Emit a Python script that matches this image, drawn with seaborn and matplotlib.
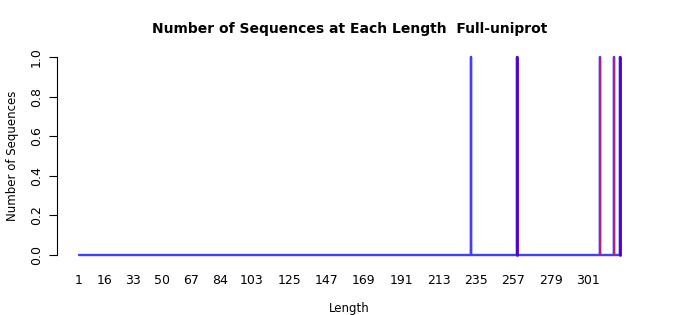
import numpy as np
import pandas as pd
import matplotlib
matplotlib.use("Agg")
import matplotlib.pyplot as plt
import seaborn as sns

# ---- data ----
length_min = 1
length_max = 320
spike_lengths_all = [232, 259, 308, 316, 320]     # blue series
spike_counts_all = [1, 1, 1, 1, 1]
spike_lengths_purple = [259, 320]                 # overlapping series (purple)
spike_counts_purple = [1, 1]
spike_lengths_red = [232, 308, 316]               # thin red core
spike_counts_red = [1, 1, 1]
xtick_values = [1, 16, 33, 50, 67, 84, 103, 125, 147, 169, 191, 213, 235, 257, 279, 301]
ytick_values = [0.0, 0.2, 0.4, 0.6, 0.8, 1.0]
title = "Number of Sequences at Each Length  Full-uniprot"

# blue: full length profile, spikes drawn as vertical segments
counts_blue = dict(zip(spike_lengths_all, spike_counts_all))
rows = []
for L in range(length_min, length_max + 1):
    c = counts_blue.get(L, 0)
    if c:
        rows += [(L, 0.0), (L, float(c)), (L, 0.0)]
    else:
        rows.append((L, 0.0))
df_blue = pd.DataFrame(rows, columns=["Length", "Count"])


def spikes(lengths, counts):
    r = []
    for i, (L, c) in enumerate(zip(lengths, counts)):
        r += [(L, 0.0, i), (L, float(c), i)]
    return pd.DataFrame(r, columns=["Length", "Count", "unit"])


df_purple = spikes(spike_lengths_purple, spike_counts_purple)
df_red = spikes(spike_lengths_red, spike_counts_red)

sns.set_style("white")
plt.rcParams['font.family'] = ['DejaVu Sans']
for k in ['text.color', 'axes.labelcolor', 'xtick.color', 'ytick.color']:
    plt.rcParams[k] = 'black'

fig = plt.figure(figsize=(7, 3.15), dpi=100)
ax = fig.add_axes([57/700, 1-263/315, (642-57)/700, (263-49)/315])

sns.lineplot(data=df_blue, x="Length", y="Count", ax=ax, color=(0.25, 0.25, 1.0),
             lw=1.7, estimator=None, sort=False, zorder=2)
for u, sub in df_purple.groupby("unit"):
    sns.lineplot(data=sub, x="Length", y="Count", ax=ax, color=(0.33, 0.0, 0.78),
                 lw=2.0, estimator=None, sort=False, zorder=3)
for u, sub in df_red.groupby("unit"):
    sns.lineplot(data=sub, x="Length", y="Count", ax=ax, color=(0.75, 0.1, 0.45),
                 lw=0.7, estimator=None, sort=False, zorder=4)

rng = length_max - length_min
ax.set_xlim(length_min - 0.04*rng, length_max + 0.04*rng)
ax.set_ylim(-0.04, 1.04)

ax.set_xticks(xtick_values)
ax.set_xticklabels([str(v) for v in xtick_values], fontsize=9)
ax.tick_params(axis='x', length=0, pad=8)
ax.set_yticks(ytick_values)
ax.set_yticklabels([f"{v:.1f}" for v in ytick_values], fontsize=9, rotation=90, va='center')
ax.tick_params(axis='y', length=6, width=0.8, pad=4, left=True, direction='out')

for s in ['top', 'right', 'bottom']:
    ax.spines[s].set_visible(False)
ax.spines['left'].set_bounds(0, 1)
ax.spines['left'].set_linewidth(0.8)
ax.spines['left'].set_color('black')

ax.set_xlabel("Length", fontsize=8.5, labelpad=11)
ax.set_ylabel("Number of Sequences", fontsize=8.5, labelpad=8)
fig.text(350/700, 1-29/315, title, ha='center', va='center', fontsize=10, fontweight='bold')

fig.savefig("out.png", dpi=100)
